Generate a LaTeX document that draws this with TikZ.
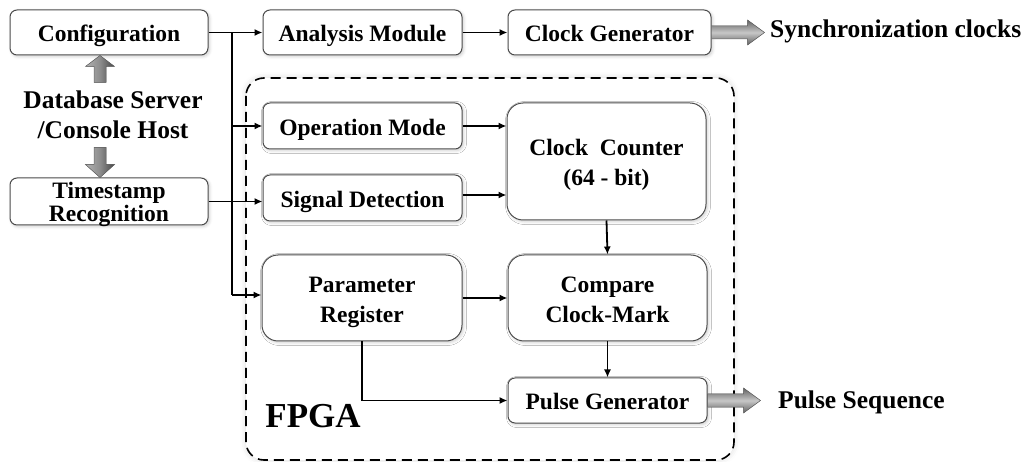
\documentclass[tikz,border=0pt]{standalone}
\usepackage{fontspec}
\setmainfont{Liberation Serif}
\usetikzlibrary{arrows.meta,calc,shadows.blur}
\begin{document}
\begin{tikzpicture}[x=1pt,y=-1pt,
  shad/.style={blur shadow={shadow xshift=1.5pt,shadow yshift=-1.5pt,shadow opacity=20,shadow blur radius=3pt}},
  box/.style={draw=black!70,line width=1pt,rounded corners=7pt,fill=white,shad,
    inner sep=0pt,align=center,font=\fontsize{23.5}{23}\selectfont\bfseries,
    text height=18.5pt,text depth=0pt},
  box2/.style={box,rounded corners=16pt,font=\fontsize{23.5}{30}\selectfont\bfseries,
    text height=49pt,text depth=0pt},
  conn/.style={line width=1.8pt,-{Latex[length=8pt,width=7pt]}},
  lbl/.style={font=\fontsize{25.5}{30}\selectfont\bfseries,inner sep=0pt,align=center},
  hfat/.style={draw=black!60,line width=0.5pt,top color=black!62,bottom color=black!62,middle color=black!22},
  vfat/.style={draw=black!60,line width=0.5pt,left color=black!30,right color=black!72,middle color=black!45}]
\useasboundingbox (0,0) rectangle (1034,462);
% FPGA region
\draw[line width=1.6pt,dash pattern=on 10pt off 6pt,rounded corners=18pt,fill=white,
  blur shadow={shadow xshift=0pt,shadow yshift=0pt,shadow opacity=15,shadow blur radius=6pt}] (246,78) rectangle (734,460);
\node[font=\fontsize{35}{35}\selectfont\bfseries,inner sep=0pt] (fpga) at (313,416) {FPGA};
% left column
\node[box,minimum width=198pt,minimum height=45pt] (conf) at (109,32.5) {Configuration};
\node[box,minimum width=198pt,minimum height=47pt,text height=41pt] (ts) at (109,201.5) {Timestamp\\Recognition};
\node[lbl] (db) at (113,115) {Database Server\\/Console Host};
% top row
\node[box,minimum width=199pt,minimum height=45pt] (an) at (362.5,32.5) {Analysis Module};
\node[box,minimum width=203pt,minimum height=45pt] (cg) at (609.5,32.5) {Clock Generator};
\node[lbl,anchor=west] (sync) at (770,31) {Synchronization clocks};
% FPGA blocks
\node[box,minimum width=199pt,minimum height=46pt] (om) at (362.5,126) {Operation Mode};
\node[box,minimum width=199pt,minimum height=46pt] (sd) at (362.5,198) {Signal Detection};
\node[box2,minimum width=199pt,minimum height=117pt] (cc) at (606.5,161.5) {Clock\ \ Counter\\(64 - bit)};
\node[box2,minimum width=200pt,minimum height=86pt] (pr) at (362,298) {Parameter\\Register};
\node[box2,minimum width=199pt,minimum height=86pt] (ccm) at (607.5,298) {Compare\\Clock-Mark};
\node[box,minimum width=199pt,minimum height=45pt] (pg) at (607.5,400.5) {Pulse Generator};
\node[lbl,anchor=west] (pulse) at (778,402) {Pulse Sequence};
% fat arrows
\filldraw[hfat] (cg.east) ++(0,-6.5) -- ++(36,0) -- ++(0,-6) -- ++(17,12.5) -- ++(-17,12.5) -- ++(0,-6) -- ++(-36,0) -- cycle;
\filldraw[hfat] (pg.east) ++(0,-6.5) -- ++(36,0) -- ++(0,-6) -- ++(17,12.5) -- ++(-17,12.5) -- ++(0,-6) -- ++(-36,0) -- cycle;
\filldraw[vfat] (conf.south -| 100,0) ++(-6,27) -- ++(0,-16) -- ++(-8.5,0) -- ++(14.5,-11) -- ++(14.5,11) -- ++(-8.5,0) -- ++(0,16) -- cycle;
\filldraw[vfat] (ts.north -| 100,0) ++(-6,-30) -- ++(0,17) -- ++(-8.5,0) -- ++(14.5,13) -- ++(14.5,-13) -- ++(-8.5,0) -- ++(0,-17) -- cycle;
% connectors
\coordinate (bt) at (232,32.5);
\coordinate (bb) at (232,295);
\draw[conn] (conf.east) -- (an.west);
\draw[line width=1.8pt] (bt) -- (bb);
\draw[conn] (bb) -- (bb -| pr.west);
\draw[conn] (bt |- om.west) -- (om.west);
\draw[conn] (ts.east) -- (ts.east -| sd.west);
\draw[conn] (an.east) -- (cg.west);
\draw[conn] (om.east) -- (om.east -| cc.west);
\draw[conn] ($(sd.east)+(0,-3)$) -- ($(sd.east -| cc.west)+(0,-3)$);
\draw[conn] (pr.east) -- (ccm.west);
\draw[conn] (cc.south) -- (ccm.north);
\draw[conn] (ccm.south) -- (pg.north);
\draw[conn] (pr.south) |- (pg.west);
\end{tikzpicture}
\end{document}
